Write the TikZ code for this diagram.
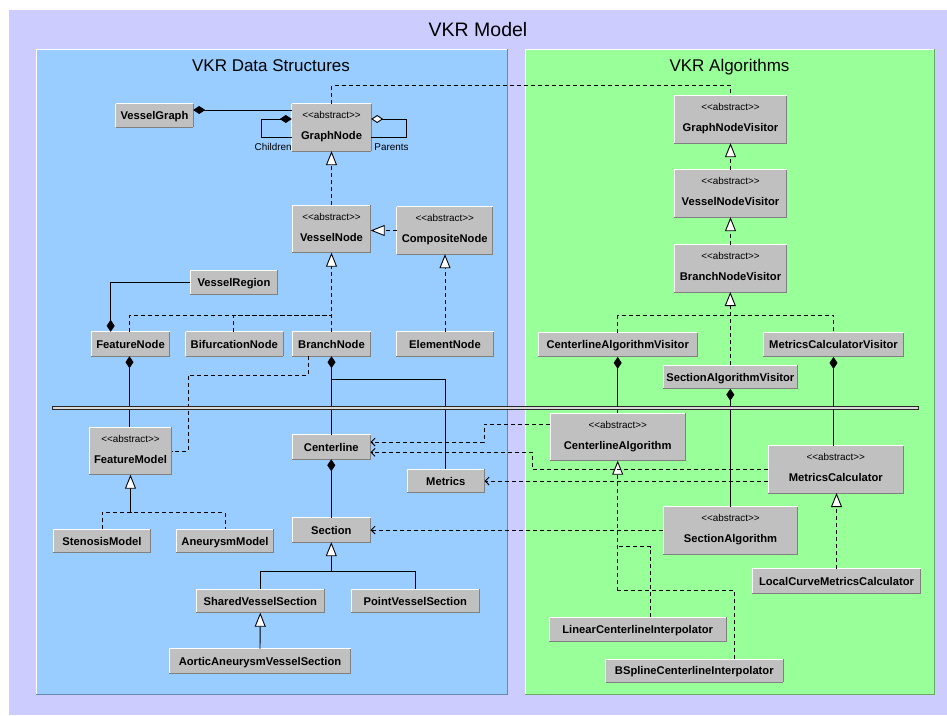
\documentclass[tikz,border=0pt]{standalone}
\usepackage{fontspec}
\setmainfont{Liberation Sans}
\usetikzlibrary{arrows.meta}
\definecolor{lav}{HTML}{CCCCFF}
\definecolor{bluep}{HTML}{99CCFF}
\definecolor{greenp}{HTML}{99FF99}
\definecolor{boxgray}{HTML}{C0C0C0}
\definecolor{boxdark}{HTML}{808080}
\definecolor{bluedark}{HTML}{6688AA}
\definecolor{greendark}{HTML}{66AA66}
\tikzset{
  clsbox/.style={fill=boxgray, inner sep=0pt, minimum height=24pt,
     font=\bfseries\fontsize{11.2}{13}\selectfont, text height=8pt, text depth=0pt,
     append after command={
       (\tikzlastnode.south west) edge[draw=white,line width=1pt,-] (\tikzlastnode.north west)
       (\tikzlastnode.north west) edge[draw=white,line width=1pt,-] (\tikzlastnode.north east)
       (\tikzlastnode.north east) edge[draw=boxdark,line width=1pt,-] (\tikzlastnode.south east)
       (\tikzlastnode.south east) edge[draw=boxdark,line width=1pt,-] (\tikzlastnode.south west)
     }},
  stereo/.style={inner sep=0pt, font=\fontsize{9.9}{11}\selectfont, text height=7.1pt, text depth=0pt},
  clsname/.style={inner sep=0pt, font=\bfseries\fontsize{11.2}{13}\selectfont, text height=8pt, text depth=0pt},
  lbl/.style={inner sep=0pt, font=\fontsize{9.9}{11}\selectfont},
  ptitle/.style={inner sep=0pt, anchor=base},
  conn/.style={line width=0.9pt, draw=black},
  dsh/.style={conn, dash pattern=on 4pt off 3pt},
  comp/.style={{Diamond[length=12pt,width=8pt]}-},
  compend/.style={-{Diamond[length=12pt,width=8pt]}},
  agg/.style={{Diamond[length=12pt,width=8pt,fill=white]}-},
  gen/.style={-{Triangle[length=14pt,width=11pt,fill=white]}},
  dep/.style={dsh,-{Straight Barb[length=4pt,width=8pt]}},
}
\newcommand{\absnode}[4]{%
  \node[clsbox, minimum width=#3, minimum height=47pt] (#1) at #2 {};
  \node[stereo] (#1-st) at ([yshift=-11.5pt]#1.north) {<{}<abstract>{}>};
  \node[clsname] (#1-nm) at ([yshift=-32pt]#1.north) {#4};
}
\begin{document}
\begin{tikzpicture}[x=1pt,y=-1pt]
\useasboundingbox (0,0) rectangle (947,715);
\fill[white] (0,0) rectangle (947,715);
% outer frame
\fill[lav] (9,10) rectangle (947,715);
\node[ptitle, font=\fontsize{19.5}{22}\selectfont] (title) at (478,36) {VKR Model};
% left panel
\fill[bluep] (36,49) rectangle (507,694);
\draw[white, line width=1pt] (36,694) -- (36,49) -- (507,49);
\draw[bluedark, line width=1pt] (507,49) -- (507,694) -- (36,694);
\node[ptitle, font=\fontsize{17}{20}\selectfont] (dstitle) at (271,71.7) {VKR Data Structures};
% right panel
\fill[greenp] (525,49) rectangle (934,694);
\draw[white, line width=1pt] (525,694) -- (525,49) -- (934,49);
\draw[greendark, line width=1pt] (934,49) -- (934,694) -- (525,694);
\node[ptitle, font=\fontsize{17}{20}\selectfont] (altitle) at (729.5,71.7) {VKR Algorithms};

% ---------- left nodes
\node[clsbox, minimum width=77pt, minimum height=23pt] (VesselGraph) at (154.5,115.5) {VesselGraph};
\absnode{GraphNode}{(331.5,127.5)}{79pt}{GraphNode}
\absnode{VesselNode}{(331.5,229)}{78pt}{VesselNode}
\absnode{CompositeNode}{(444.7,230.5)}{96pt}{CompositeNode}
\node[clsbox, minimum width=87pt] (VesselRegion) at (234,282.5) {VesselRegion};
\node[clsbox, minimum width=78pt] (FeatureNode) at (130.5,344) {FeatureNode};
\node[clsbox, minimum width=97pt] (BifurcationNode) at (234.3,344) {BifurcationNode};
\node[clsbox, minimum width=78pt] (BranchNode) at (331.5,344) {BranchNode};
\node[clsbox, minimum width=97pt] (ElementNode) at (445,344) {ElementNode};
\absnode{FeatureModel}{(130.5,451)}{82pt}{FeatureModel}
\node[clsbox, minimum width=97pt, minimum height=23pt] (StenosisModel) at (102,541) {StenosisModel};
\node[clsbox, minimum width=97pt, minimum height=23pt] (AneurysmModel) at (225,541) {AneurysmModel};
\node[clsbox, minimum width=78pt] (Centerline) at (331.3,447) {Centerline};
\node[clsbox, minimum width=77pt, minimum height=23pt] (Metrics) at (445.8,481) {Metrics};
\node[clsbox, minimum width=78pt] (Section) at (331.3,530) {Section};
\node[clsbox, minimum width=128pt, minimum height=23pt] (SharedVesselSection) at (260.3,601) {SharedVesselSection};
\node[clsbox, minimum width=128pt, minimum height=23pt] (PointVesselSection) at (415.3,601) {PointVesselSection};
\node[clsbox, minimum width=181pt] (AorticAneurysmVesselSection) at (260,661) {AorticAneurysmVesselSection};

% ---------- right nodes
\absnode{GraphNodeVisitor}{(730.5,119.5)}{112pt}{GraphNodeVisitor}
\absnode{VesselNodeVisitor}{(730.5,193.5)}{112pt}{VesselNodeVisitor}
\absnode{BranchNodeVisitor}{(730.5,268.3)}{112pt}{BranchNodeVisitor}
\node[clsbox, minimum width=159pt] (CenterlineAlgorithmVisitor) at (617.7,344.7) {CenterlineAlgorithmVisitor};
\node[clsbox, minimum width=140pt] (MetricsCalculatorVisitor) at (833.5,344.7) {MetricsCalculatorVisitor};
\node[clsbox, minimum width=134pt, minimum height=23pt] (SectionAlgorithmVisitor) at (730.3,377) {SectionAlgorithmVisitor};
\absnode{CenterlineAlgorithm}{(617.7,437)}{135pt}{CenterlineAlgorithm}
\absnode{MetricsCalculator}{(835.8,469.3)}{135pt}{MetricsCalculator}
\absnode{SectionAlgorithm}{(730.5,530.3)}{134pt}{SectionAlgorithm}
\node[clsbox, minimum width=168pt] (LocalCurveMetricsCalculator) at (836.5,581) {LocalCurveMetricsCalculator};
\node[clsbox, minimum width=177pt] (LinearCenterlineInterpolator) at (637.7,629.5) {LinearCenterlineInterpolator};
\node[clsbox, minimum width=177pt, minimum height=23pt] (BSplineCenterlineInterpolator) at (694.3,670.7) {BSplineCenterlineInterpolator};

% ---------- connectors (left)
\draw[conn,compend] ([yshift=17.5pt]GraphNode.west) -- ([yshift=5.5pt]VesselGraph.east);
\draw[conn,comp] ([yshift=8.5pt]GraphNode.west) -- ++(-30,0) |- ([yshift=-9.5pt]GraphNode.west);
\draw[conn,agg] ([yshift=8.5pt]GraphNode.east) -- ++(35,0) |- ([yshift=-9.5pt]GraphNode.east);
\node[lbl, anchor=east] (lchildren) at ([yshift=4pt]GraphNode.south west) {Children};
\node[lbl, anchor=west] (lparents) at ([xshift=3pt,yshift=4pt]GraphNode.south east) {Parents};
\draw[dsh] (GraphNode.north) -- ++(0,-18) -| (GraphNodeVisitor.north);
\draw[dsh,gen] (VesselNode.north) -- (GraphNode.south);
\draw[dsh,gen] (CompositeNode.west) -- (CompositeNode.west -| VesselNode.east);
\draw[conn,compend] (VesselRegion.west) -| ([xshift=-19.8pt]FeatureNode.north);
\coordinate (vnj) at (331.5,315.7);
\draw[dsh,gen] (BranchNode.north) -- (VesselNode.south);
\draw[dsh] ([xshift=-1pt]FeatureNode.north) |- (vnj);
\draw[dsh] ([xshift=-1pt]BifurcationNode.north) |- (vnj);
\draw[dsh,gen] (ElementNode.north) -- (ElementNode.north |- CompositeNode.south);
\draw[conn,comp] ([xshift=-1pt]FeatureNode.south) -- ([xshift=-1pt]FeatureModel.north);
\coordinate (bfj) at (188.3,375);
\draw[dsh] ([xshift=-23.2pt]BranchNode.south) |- (bfj) |- (FeatureModel.east);
\draw[conn,comp] (BranchNode.south) -- (BranchNode.south |- Centerline.north);
\coordinate (bmj) at (331.5,379.3);
\draw[conn] (bmj) -| (Metrics.north);
\coordinate (fmj) at (130.5,512.7);
\draw[conn,gen] (fmj) -- (FeatureModel.south);
\draw[dsh] (StenosisModel.north) |- (fmj) -| (AneurysmModel.north);
\draw[conn,comp] (Centerline.south) -- (Section.north);
\coordinate (sj) at (331.3,571.7);
\draw[conn,gen] (sj) -- (Section.south);
\draw[conn] (SharedVesselSection.north) |- (sj) -| (PointVesselSection.north);
\draw[conn,gen] (AorticAneurysmVesselSection.north) -- (SharedVesselSection.south);

% ---------- connectors (right)
\draw[dsh,gen] (VesselNodeVisitor.north) -- (GraphNodeVisitor.south);
\draw[dsh,gen] (BranchNodeVisitor.north) -- (VesselNodeVisitor.south);
\draw[dsh,gen] (SectionAlgorithmVisitor.north) -- (SectionAlgorithmVisitor.north |- BranchNodeVisitor.south);
\coordinate (bnvj) at (730.3,315.3);
\draw[dsh] (CenterlineAlgorithmVisitor.north) |- (bnvj) -| (MetricsCalculatorVisitor.north);
\draw[conn,comp] (CenterlineAlgorithmVisitor.south) -- (CenterlineAlgorithm.north);
\draw[conn,comp] (SectionAlgorithmVisitor.south) -- (SectionAlgorithmVisitor.south |- SectionAlgorithm.north);
\draw[conn,comp] (MetricsCalculatorVisitor.south) -- (MetricsCalculatorVisitor.south |- MetricsCalculator.north);
\draw[dsh,gen] (LocalCurveMetricsCalculator.north) -- (LocalCurveMetricsCalculator.north |- MetricsCalculator.south);
\coordinate (caj1) at (617.7,546.7);
\coordinate (caj2) at (617.7,590.7);
\draw[dsh,gen] (caj2) -- (CenterlineAlgorithm.south);
\draw[dsh] ([xshift=12.3pt]LinearCenterlineInterpolator.north) |- (caj1);
\draw[dsh] ([xshift=40pt]BSplineCenterlineInterpolator.north) |- (caj2);
% dependencies
\coordinate (d1) at (484,442);
\draw[dep] ([yshift=13pt]CenterlineAlgorithm.west) -| (d1) -- ([yshift=5pt]Centerline.east);
\coordinate (d2) at (532,452.3);
\draw[dep] (MetricsCalculator.west) -| (d2) -- ([yshift=-5.3pt]Centerline.east);
\draw[dep] (Metrics.east -| MetricsCalculator.west) -- (Metrics.east);
\draw[dep] (Section.east -| SectionAlgorithm.west) -- (Section.east);

% separator
\coordinate (sepL) at (52,406.4);
\coordinate (sepR) at (918,409.6);
\draw[line width=0.8pt, draw=black!85, fill=gray!30] (sepL) rectangle (sepR);
\end{tikzpicture}
\end{document}
